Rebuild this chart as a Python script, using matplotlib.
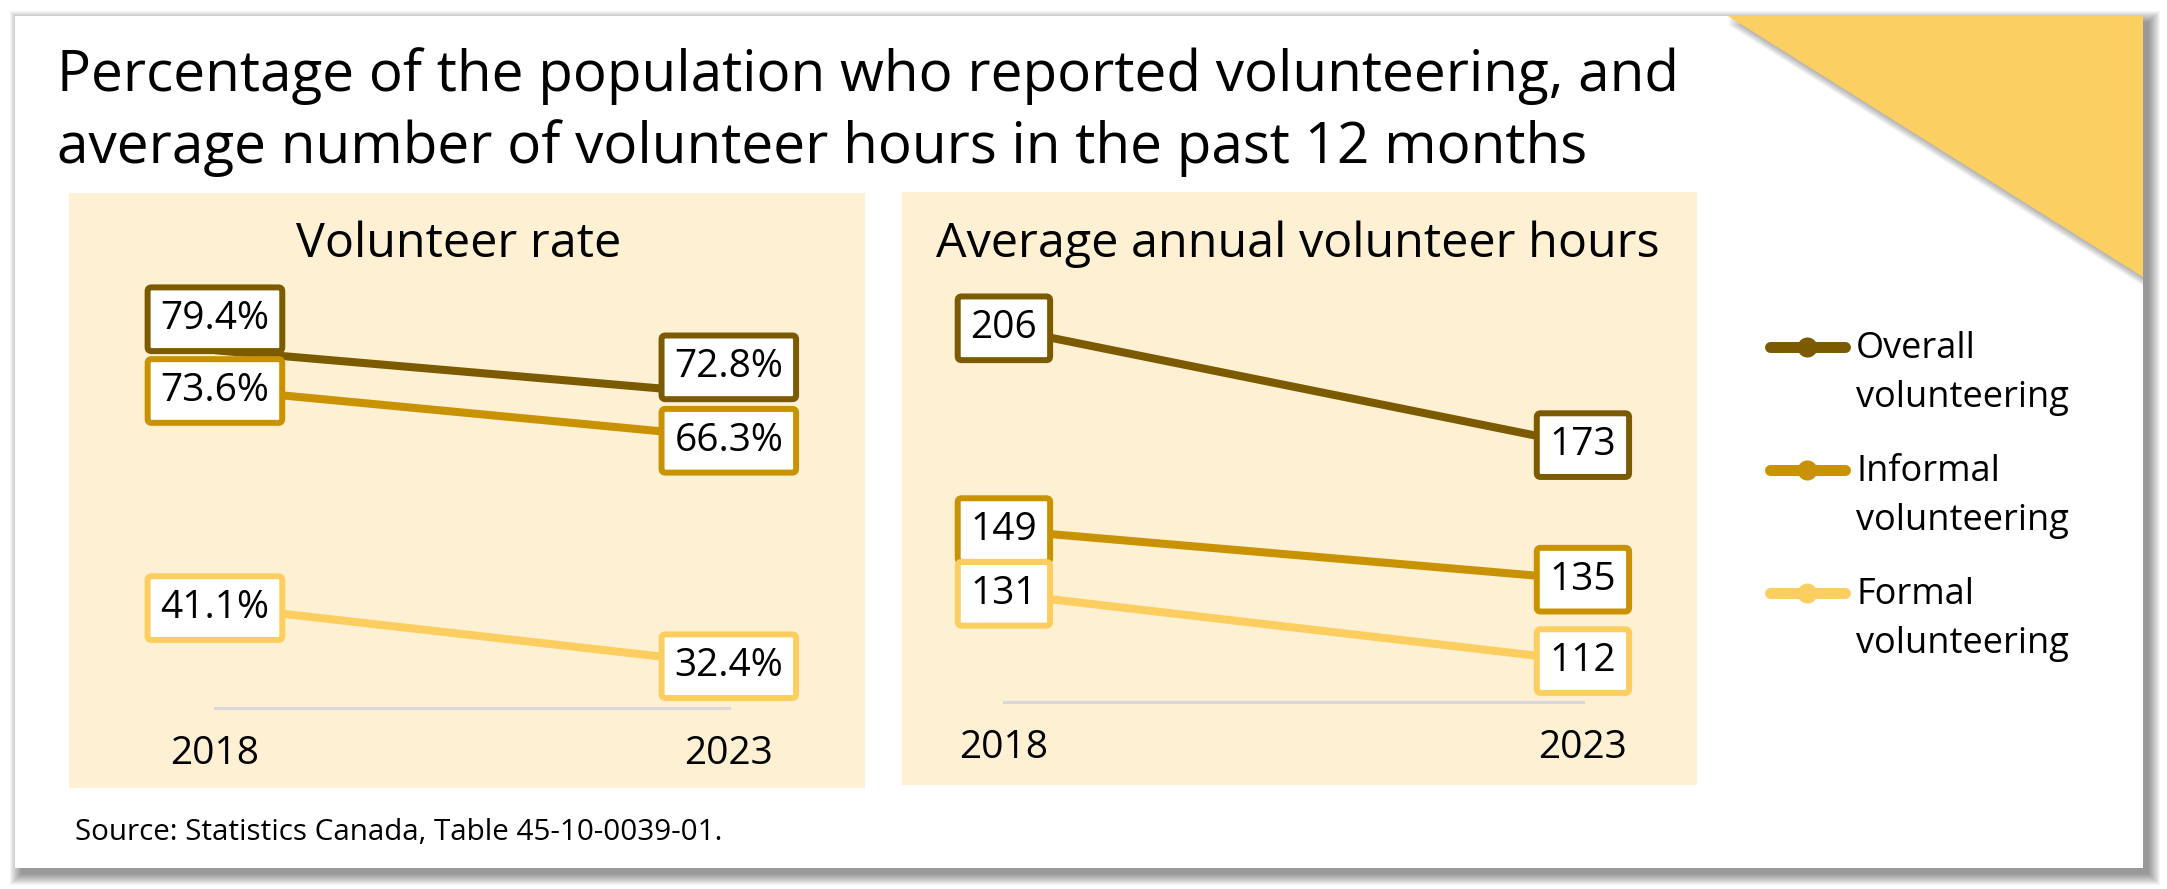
import matplotlib
matplotlib.use('Agg')
import matplotlib.pyplot as plt
from matplotlib.patches import Rectangle, Polygon
from matplotlib.lines import Line2D
import matplotlib.transforms as mtransforms

plt.rcParams['font.family'] = ['Open Sans', 'DejaVu Sans']

# ---------------- data ----------------
years = ['2018', '2023']
series = ['Overall volunteering', 'Informal volunteering', 'Formal volunteering']
rate_values = [[79.4, 72.8], [73.6, 66.3], [41.1, 32.4]]
hours_values = [[206, 173], [149, 135], [131, 112]]
title_lines = ['Percentage of the population who reported volunteering, and',
               'average number of volunteer hours in the past 12 months']
panel_titles = ['Volunteer rate', 'Average annual volunteer hours']
source = 'Source: Statistics Canada, Table 45-10-0039-01.'

# ---------------- style ----------------
colors = ['#7B5A00', '#C99200', '#FBCE5F']
panel_bg = '#FDF0D3'
tri_color = '#FBCF61'

W, H, DPI = 2167, 889, 100
fig = plt.figure(figsize=(W / DPI, H / DPI), dpi=DPI)
fig.patch.set_facecolor('white')


def fx(px):
    return px / W


def fy(py):
    return 1 - py / H


def rect_px(x0, y0, x1, y1, **kw):
    return Rectangle((fx(x0), fy(y1)), (x1 - x0) / W, (y1 - y0) / H,
                     transform=fig.transFigure, **kw)


# card with shadow
cx0, cy0, cx1, cy1 = 15, 16, 2143, 868
for k in range(12):
    e = 11 - k
    fig.patches.append(rect_px(cx0 + 6 - e, cy0 + 6 - e, cx1 + 6 + e, cy1 + 6 + e,
                               facecolor='black', edgecolor='none', alpha=0.04, zorder=-20))
fig.patches.append(rect_px(cx0, cy0, cx1, cy1, facecolor='white', edgecolor='none', zorder=-15))

# corner triangle with shadow
tri = [(1728, 16), (2143, 16), (2143, 277)]
for k in range(1, 10):
    pts = [(fx(x), fy(y + k)) for x, y in tri]
    fig.patches.append(Polygon(pts, closed=True, transform=fig.transFigure,
                               facecolor='black', edgecolor='none', alpha=0.035, zorder=-12))
fig.patches.append(Polygon([(fx(x), fy(y)) for x, y in tri], closed=True,
                           transform=fig.transFigure, facecolor=tri_color,
                           edgecolor='none', zorder=-10))

# title
for i, line in enumerate(title_lines):
    fig.text(fx(57), fy(91 + 72 * i), line, fontsize=40.8, color='black',
             ha='left', va='baseline')

# source
fig.text(fx(75), fy(840), source, fontsize=21.3, color='black', ha='left', va='baseline')


def make_panel(box, xlim, ylim, values, labels, offsets, base, title, title_pos, year_y):
    x0, y0, x1, y1 = box
    ax = fig.add_axes([fx(x0), fy(y1), (x1 - x0) / W, (y1 - y0) / H])
    ax.set_facecolor(panel_bg)
    for s in ax.spines.values():
        s.set_visible(False)
    ax.set_xticks([])
    ax.set_yticks([])
    ax.set_xlim(*xlim)
    ax.set_ylim(*ylim)
    xs = list(range(len(years)))
    ax.plot([xs[0], xs[-1]], [base, base], color='#D9D9D9', lw=2.2, zorder=1)
    for si in range(len(values)):
        ax.plot(xs, values[si], color=colors[si], lw=5.8, solid_capstyle='butt', zorder=2)
    for si in reversed(range(len(values))):
        for j, x in enumerate(xs):
            ax.annotate(labels[si][j], (x, values[si][j]), xytext=(0, offsets[si][j]),
                        textcoords='offset pixels', ha='center', va='center',
                        fontsize=28, color='black', zorder=5 + si,
                        bbox=dict(boxstyle='round,pad=0.33,rounding_size=0.1',
                                  fc='white', ec=colors[si], lw=4.3))
    trans = mtransforms.blended_transform_factory(ax.transData, ax.transAxes)
    for j, x in enumerate(xs):
        ax.text(x, year_y, years[j], transform=trans, ha='center', va='baseline',
                fontsize=28, color='black')
    ax.text(title_pos[0], title_pos[1], title, transform=ax.transAxes, ha='center',
            va='baseline', fontsize=34.8, color='black')
    return ax


rate_labels = [[f'{v:.1f}%' for v in row] for row in rate_values]
hours_labels = [[f'{v:d}' for v in row] for row in hours_values]

make_panel((69, 193, 865, 788), (-0.284, 1.265), (13.87, 102.94), rate_values, rate_labels,
           [[31, 27], [-2, -3], [-2, -2]], 25.8, panel_titles[0], (0.489, 0.892), 0.040)
make_panel((902, 192, 1697, 785), (-0.176, 1.197), (77.0, 244.5), hours_values, hours_labels,
           [[0, 0], [0, 0], [0, 0]], 100.4, panel_titles[1], (0.498, 0.890), 0.0455)

# legend
for si, name in enumerate(series):
    ly = 347 + 123 * si
    fig.lines.append(Line2D([fx(1770), fx(1807), fx(1845)], [fy(ly)] * 3,
                            transform=fig.transFigure, color=colors[si], lw=7.9,
                            solid_capstyle='round', marker='o', markersize=14.4,
                            markevery=[1], markeredgewidth=0))
    first, rest = name.split(' ', 1)
    fig.text(fx(1856), fy(ly + 11), first, fontsize=26, ha='left', va='baseline', color='black')
    fig.text(fx(1856), fy(ly + 60), rest, fontsize=26, ha='left', va='baseline', color='black')

fig.savefig('out.png', dpi=DPI)
